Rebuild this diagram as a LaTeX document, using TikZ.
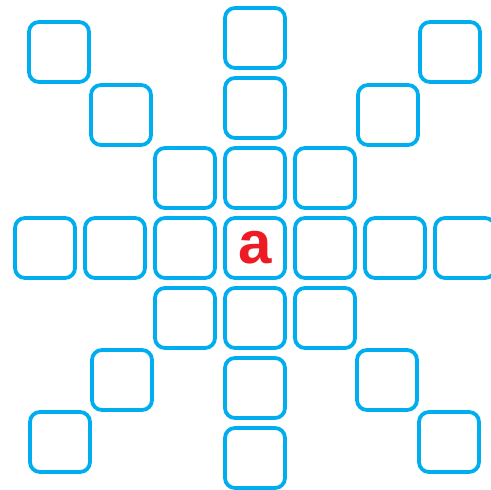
\documentclass[tikz,border=0pt]{standalone}
\usepackage{fontspec}
\setmainfont{Liberation Sans}
\usetikzlibrary{positioning}
\definecolor{gridcyan}{RGB}{0,174,239}
\definecolor{letterred}{RGB}{237,28,36}

\begin{document}
\begin{tikzpicture}[
      x=1pt,y=1pt,
      node distance=10pt and 10pt,
      cell/.style={draw=gridcyan,line width=3.8pt,rounded corners=10pt,
                   minimum size=60pt,inner sep=0pt,outer sep=0pt},
      letter/.style={font=\fontsize{60}{60}\selectfont\bfseries,text=letterred}
  ]
    \useasboundingbox (-255,-242) rectangle (236,248);

    % centre and the cross
    \node[cell,letter] (c) at (0,0) {a};
    \node[cell,left=of c]   (w1) {};
    \node[cell,left=of w1]  (w2) {};
    \node[cell,left=of w2]  (w3) {};
    \node[cell,right=of c]  (e1) {};
    \node[cell,right=of e1] (e2) {};
    \node[cell,right=of e2] (e3) {};
    \node[cell,above=of c]  (n1) {};
    \node[cell,above=of n1] (n2) {};
    \node[cell,above=of n2] (n3) {};
    \node[cell,below=of c]  (s1) {};
    \node[cell,below=of s1] (s2) {};
    \node[cell,below=of s2] (s3) {};

    % inner ring corners
    \node[cell,above left=of c]  (nw) {};
    \node[cell,above right=of c] (ne) {};
    \node[cell,below left=of c]  (sw) {};
    \node[cell,below right=of c] (se) {};

    % diagonal arms
    \node[cell] (nwA) at (-134,133) {};
    \node[cell] (nwB) at (-196,196) {};
    \node[cell] (neA) at (133,133) {};
    \node[cell] (neB) at (195,196) {};
    \node[cell] (swA) at (-133,-132) {};
    \node[cell] (swB) at (-195,-194) {};
    \node[cell] (seA) at (132,-132) {};
    \node[cell] (seB) at (194,-194) {};
  \end{tikzpicture}
\end{document}
